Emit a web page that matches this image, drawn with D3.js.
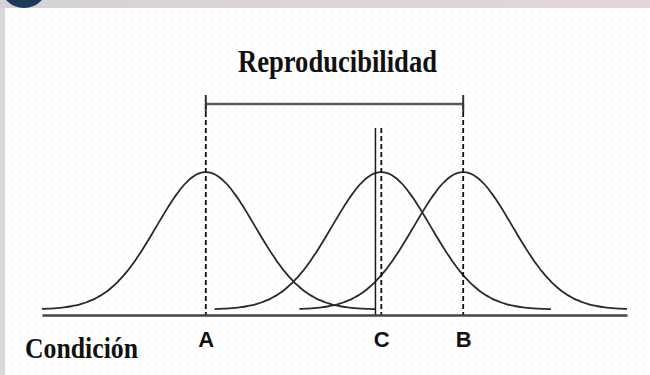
<!DOCTYPE html>
<html>
<head>
<meta charset="utf-8">
<script src="https://cdn.jsdelivr.net/npm/d3@7"></script>
<style>
  html, body { margin: 0; padding: 0; background: #ddd7d9; }
  svg { display: block; }
  .tick text { font-family: "Liberation Sans", Arial, sans-serif; font-weight: bold; font-size: 22px; fill: #111; }
</style>
</head>
<body>
<div id="chart"></div>
<script>
  /* -----------------------
      DATA
   -------------------------- */
  //-- CONDITIONS ON THE AXIS
  var labels = ['A', 'C', 'B'];
  var means = [2.8, 5.8, 7.2];
  var sigma = 0.84;
  //-- WHERE EACH CURVE STARTS AND ENDS
  var curveFrom = [0, 2.95, 4.4];
  var curveTo = [5.7, 8.7, 10];
  //-- SOLID REFERENCE LINE
  var refLine = 5.7;
  //-- HEIGHTS (CURVE UNITS)
  var curveBase = 0.04;
  var bracketLevel = 1.535;
  var refTop = 1.36;

  var W = 650, H = 375;

  var svg = d3.select('#chart').append('svg')
    .attr('width', W)
    .attr('height', H);

  var defs = svg.append('defs');

  //-- TOP STRIP GRADIENT
  var grad = defs.append('linearGradient').attr('id', 'strip');
  grad.append('stop').attr('offset', '0%').attr('stop-color', '#d6d3d5');
  grad.append('stop').attr('offset', '60%').attr('stop-color', '#ddd6d9');
  grad.append('stop').attr('offset', '100%').attr('stop-color', '#e4d5da');

  //-- DOTTED PAPER
  var pat = defs.append('pattern')
    .attr('id', 'dots')
    .attr('width', 8)
    .attr('height', 8)
    .attr('patternUnits', 'userSpaceOnUse');
  pat.append('rect').attr('width', 8).attr('height', 8).attr('fill', '#fff');
  pat.append('circle').attr('cx', 4).attr('cy', 4).attr('r', 0.8).attr('fill', '#ececec');

  svg.append('rect').attr('width', W).attr('height', H).attr('fill', '#dcd7d9');
  svg.append('rect').attr('width', W).attr('height', 8).attr('fill', 'url(#strip)');
  svg.append('rect')
    .attr('x', 5).attr('y', 8)
    .attr('width', W - 5).attr('height', H - 8)
    .attr('fill', 'url(#dots)');

  //-- CORNER BADGE
  svg.append('circle')
    .attr('cx', 24).attr('cy', -16)
    .attr('r', 19)
    .attr('fill', 'none')
    .attr('stroke', '#1d3a5a')
    .attr('stroke-width', 10);

  /* -----------------------
      SCALES
   -------------------------- */
  var x = d3.scaleLinear().domain([0, 10]).range([42, 627]);
  var y = d3.scaleLinear().domain([0, 1.6]).range([315, 95]);

  var line = d3.line()
    .x(function(d) { return x(d[0]); })
    .y(function(d) { return y(d[1]); })
    .curve(d3.curveBasis);

  //-- CURVES
  means.forEach(function(m, i) {
    var pts = d3.range(curveFrom[i], curveTo[i] + 0.001, 0.05).map(function(v) {
      var z = (v - m) / sigma;
      return [v, curveBase + Math.exp(-z * z / 2)];
    });
    svg.append('path')
      .datum(pts)
      .attr('d', line)
      .attr('fill', 'none')
      .attr('stroke', '#2a2a2a')
      .attr('stroke-width', 1.8);
  });

  //-- DASHED LINES
  means.forEach(function(m, i) {
    svg.append('line')
      .attr('x1', x(m)).attr('x2', x(m))
      .attr('y1', y(labels[i] === 'C' ? refTop : bracketLevel))
      .attr('y2', y(0))
      .attr('stroke', '#111')
      .attr('stroke-width', 1.8)
      .attr('stroke-dasharray', '5,3');
  });

  //-- SOLID LINE
  svg.append('line')
    .attr('x1', x(refLine)).attr('x2', x(refLine))
    .attr('y1', y(refTop)).attr('y2', y(0))
    .attr('stroke', '#1a1a1a')
    .attr('stroke-width', 1.5);

  //-- BRACKET A..B
  var xa = x(means[0]), xb = x(means[2]);
  svg.append('line')
    .attr('x1', xa).attr('x2', xb)
    .attr('y1', y(bracketLevel)).attr('y2', y(bracketLevel))
    .attr('stroke', '#5a5a5a')
    .attr('stroke-width', 2.4);
  [xa, xb].forEach(function(px) {
    svg.append('line')
      .attr('x1', px).attr('x2', px)
      .attr('y1', y(1.6)).attr('y2', y(1.476))
      .attr('stroke', '#333')
      .attr('stroke-width', 2);
  });

  //-- AXIS
  var axis = svg.append('g')
    .attr('transform', 'translate(0,' + y(0) + ')')
    .call(
      d3.axisBottom(x)
      .tickValues(means)
      .tickFormat(function(d, i) { return labels[i]; })
      .tickSize(0)
      .tickSizeOuter(0)
      .tickPadding(16)
    );
  axis.select('.domain')
    .attr('stroke', '#444')
    .attr('stroke-width', 2.6);

  //-- TEXTS
  svg.append('text')
    .attr('x', 238).attr('y', 72)
    .attr('textLength', 199)
    .attr('lengthAdjust', 'spacingAndGlyphs')
    .style('font-family', '"Liberation Serif", "Times New Roman", serif')
    .style('font-weight', 'bold')
    .style('font-size', '31px')
    .style('fill', '#111')
    .text('Reproducibilidad');

  svg.append('text')
    .attr('x', 25).attr('y', 358)
    .attr('textLength', 113)
    .attr('lengthAdjust', 'spacingAndGlyphs')
    .style('font-family', '"Liberation Serif", "Times New Roman", serif')
    .style('font-weight', 'bold')
    .style('font-size', '30px')
    .style('fill', '#111')
    .text('Condición');
</script>
</body>
</html>
